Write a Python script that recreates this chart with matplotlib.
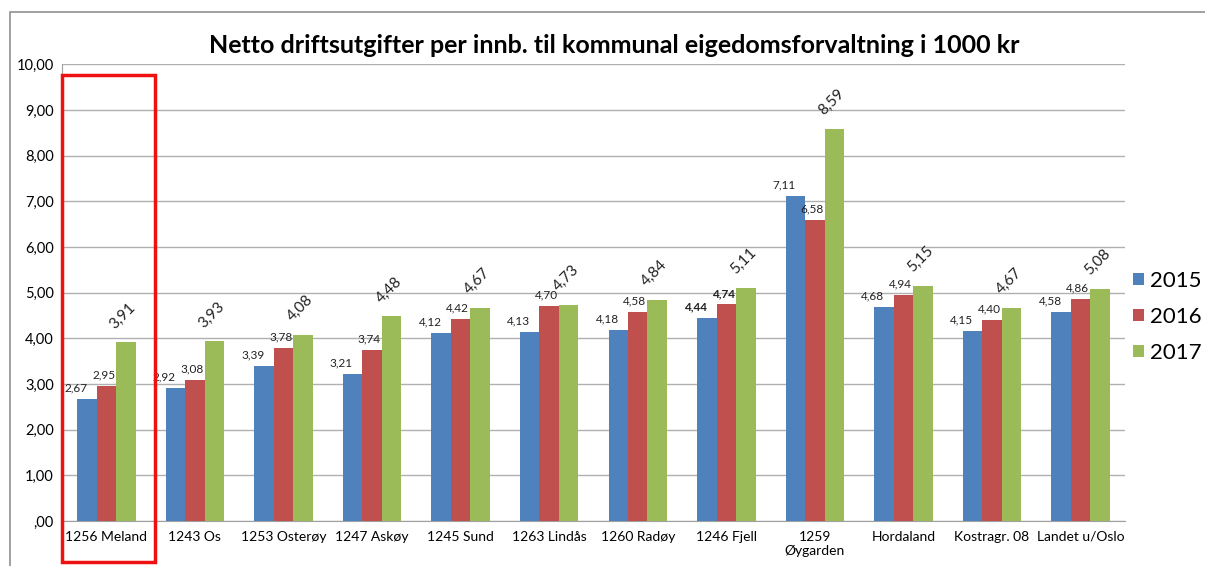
import matplotlib.pyplot as plt
import matplotlib.ticker as mticker
from matplotlib.patches import Rectangle
import numpy as np

plt.rcParams['font.family'] = ['Lato', 'DejaVu Sans']

kommuner = ['1256 Meland', '1243 Os', '1253 Osterøy', '1247 Askøy', '1245 Sund',
            '1263 Lindås', '1260 Radøy', '1246 Fjell', '1259\nØygarden',
            'Hordaland', 'Kostragr. 08', 'Landet u/Oslo']
v2015 = [2.67, 2.92, 3.39, 3.21, 4.12, 4.13, 4.18, 4.44, 7.11, 4.68, 4.15, 4.58]
v2016 = [2.95, 3.08, 3.78, 3.74, 4.42, 4.70, 4.58, 4.74, 6.58, 4.94, 4.40, 4.86]
v2017 = [3.91, 3.93, 4.08, 4.48, 4.67, 4.73, 4.84, 5.11, 8.59, 5.15, 4.67, 5.08]
years = ['2015', '2016', '2017']
farger = ['#4F81BD', '#C0504D', '#9BBB59']

def komma(v):
    return format(v, '.2f').replace('.', ',')

fig = plt.figure(figsize=(12.05, 5.66), dpi=100)
ax = fig.add_axes([0.0515, 0.0795, 0.882, 0.807])

x = np.arange(len(kommuner))
w = 0.22
b1 = ax.bar(x - w, v2015, w, color=farger[0], label=years[0], zorder=3)
b2 = ax.bar(x, v2016, w, color=farger[1], label=years[1], zorder=3)
b3 = ax.bar(x + w, v2017, w, color=farger[2], label=years[2], zorder=3)

for i in range(len(x)):
    fw = 'bold' if kommuner[i] == '1246 Fjell' else 'normal'
    ax.annotate(komma(v2015[i]), (x[i] - w, v2015[i]), xytext=(-8, 4),
                textcoords='offset points', ha='center', va='bottom',
                fontsize=8.5, fontweight=fw, color='#222222')
    ax.annotate(komma(v2016[i]), (x[i], v2016[i]), xytext=(-2, 4),
                textcoords='offset points', ha='center', va='bottom',
                fontsize=8.5, fontweight=fw, color='#222222')
    ax.annotate(komma(v2017[i]), (x[i] + w, v2017[i]), xytext=(-2, 8),
                textcoords='offset points', ha='center', va='bottom',
                fontsize=11, rotation=45, color='#222222')

ax.set_ylim(0, 10)
ax.set_xlim(-0.5, len(kommuner) - 0.5)
ax.yaxis.set_major_locator(mticker.MultipleLocator(1))
ax.yaxis.set_major_formatter(mticker.FuncFormatter(lambda v, p: ',00' if v == 0 else komma(v)))
ax.set_xticks(x)
ax.set_xticklabels(kommuner, fontsize=10)
ax.tick_params(axis='y', labelsize=10.5, length=0, pad=6)
ax.tick_params(axis='x', length=0, pad=7)
ax.grid(axis='y', color='#b0b0b0', linewidth=1, zorder=0)
ax.spines['right'].set_visible(False)
ax.spines['top'].set_visible(False)
ax.spines['left'].set_color('#a0a0a0')
ax.spines['bottom'].set_color('#a0a0a0')

# rød ramme rundt Meland
ax.add_patch(Rectangle((-0.5, -0.9), 1.05, 10.66, fill=False, edgecolor='#ee1111',
                       linewidth=2.5, clip_on=False, zorder=5))

fig.text(0.51, 0.92, 'Netto driftsutgifter per innb. til kommunal eigedomsforvaltning i 1000 kr',
         ha='center', va='center', fontsize=18, fontweight='bold')

fig.legend(handles=[b1, b2, b3], labels=years, loc='center left',
           bbox_to_anchor=(0.94, 0.44), frameon=False, fontsize=16,
           borderpad=0, borderaxespad=0,
           handlelength=0.5, handleheight=0.5, handletextpad=0.3, labelspacing=0.72)

# ramme rundt hele figuren
fig.patches.append(Rectangle((0.008, -0.1), 1.2, 1.079, transform=fig.transFigure,
                             fill=False, edgecolor='#909090', linewidth=1.2))

fig.savefig('out.png', dpi=100)
